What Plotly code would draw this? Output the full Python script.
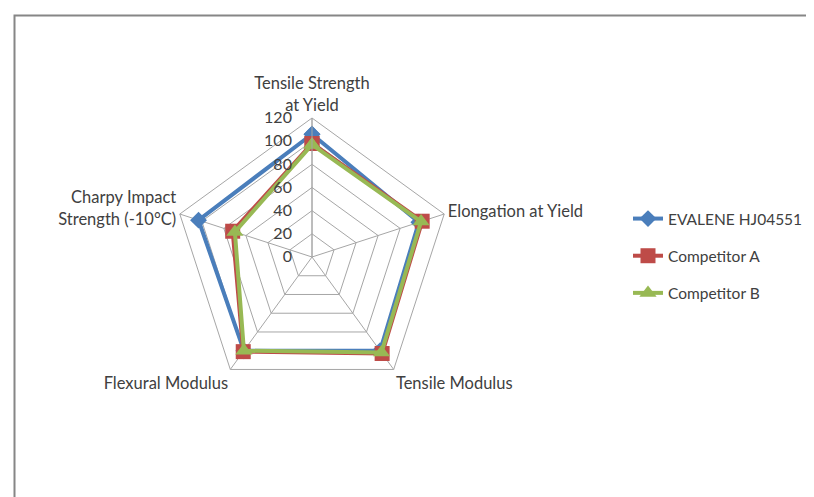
import plotly.graph_objects as go

categories = ["Tensile Strength<br>at Yield", "Elongation at Yield", "Tensile Modulus",
              "Flexural Modulus", "Charpy Impact<br>Strength (-10°C)"]
evalene = [106, 97, 100, 100, 103]
comp_a = [98, 100, 103, 101, 72]
comp_b = [97, 99, 102, 100, 70]
series_names = ["EVALENE HJ04551", "Competitor A", "Competitor B"]
radial_ticks = [0, 20, 40, 60, 80, 100, 120]

W, H = 814, 497
cx, cy, R = 304, 249, 139

fig = go.Figure()
styles = [
    ("#4A7EBB", "diamond", 13),
    ("#BE4B48", "square", 15),
    ("#98B954", "triangle-up", 15),
]
for i, (name, vals) in enumerate(zip(series_names, [evalene, comp_a, comp_b])):
    col, sym, sz = styles[i]
    fig.add_trace(go.Scatterpolar(
        r=vals + vals[:1], theta=categories + categories[:1], name=name,
        mode="lines+markers",
        line=dict(color=col, width=4),
        marker=dict(symbol=sym, size=sz, color=col),
        legendgroup=name,
    ))

fig.update_layout(
    width=W, height=H,
    margin=dict(l=0, r=0, t=0, b=0),
    paper_bgcolor="white",
    font=dict(family="Lato, Open Sans, sans-serif", size=16.5, color="#404040"),
    polar=dict(
        domain=dict(x=[(cx - R) / W, (cx + R) / W], y=[(H - cy - R) / H, (H - cy + R) / H]),
        gridshape="linear",
        bgcolor="white",
        radialaxis=dict(range=[0, 120], tickvals=radial_ticks, angle=90, side="counterclockwise",
                        showline=True, linecolor="#A6A6A6", gridcolor="#A6A6A6",
                        ticks="outside", ticklen=14, tickcolor="rgba(0,0,0,0)",
                        tickfont=dict(size=16, color="#404040"), tickangle=90),
        angularaxis=dict(rotation=90, direction="clockwise", showline=True,
                         linecolor="#A6A6A6", gridcolor="#A6A6A6", ticks="",
                         tickfont=dict(size=16.5, color="#404040")),
    ),
    legend=dict(x=620 / W, y=1 - 194 / H, xanchor="left", yanchor="top",
                font=dict(size=15.5, color="#404040"), tracegroupgap=14,
                bgcolor="rgba(0,0,0,0)"),
    shapes=[dict(type="rect", xref="paper", yref="paper",
                 x0=6.5 / W, x1=(W + 20) / W, y0=-20 / H, y1=1 - 7.5 / H,
                 line=dict(color="#868686", width=2), fillcolor="rgba(0,0,0,0)")],
)

fig.write_html("out.html")
